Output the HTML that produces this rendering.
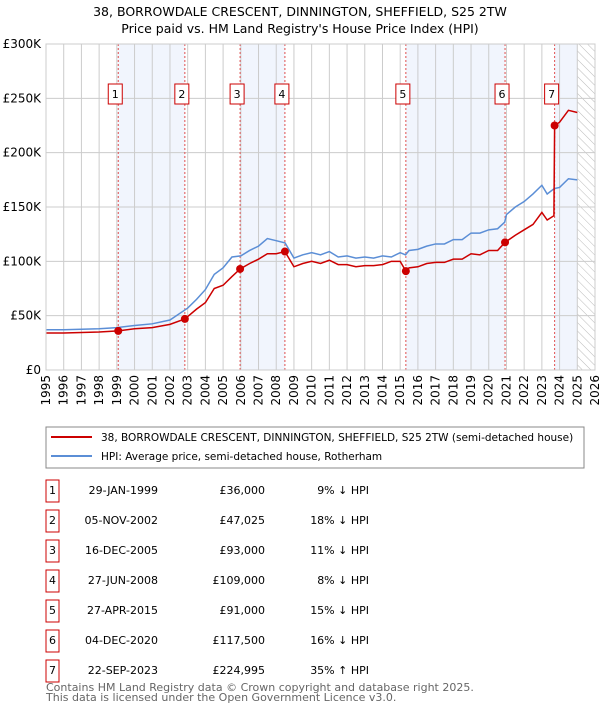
<!DOCTYPE html>
<html><head><meta charset="utf-8"><style>
body{margin:0;background:#fff;font-family:"DejaVu Sans","Liberation Sans",sans-serif;}
#wrap{position:relative;width:600px;height:710px;overflow:hidden}
</style></head><body><div id="wrap">
<svg id="svg" width="600" height="710" style="position:absolute;left:0;top:0">
<text x="300" y="16" text-anchor="middle" font-size="12.5">38, BORROWDALE CRESCENT, DINNINGTON, SHEFFIELD, S25 2TW</text>
<text x="300" y="33" text-anchor="middle" font-size="12.5">Price paid vs. HM Land Registry's House Price Index (HPI)</text>
<g id="plot"></g>
<rect x="46" y="427" width="538" height="41" fill="#fff" stroke="#888"/>
<line x1="51" y1="437" x2="92" y2="437" stroke="#cc0000" stroke-width="2"/>
<text x="101" y="441" font-size="10.5">38, BORROWDALE CRESCENT, DINNINGTON, SHEFFIELD, S25 2TW (semi-detached house)</text>
<line x1="51" y1="456" x2="92" y2="456" stroke="#5b8ed6" stroke-width="2"/>
<text x="101" y="460" font-size="10.5">HPI: Average price, semi-detached house, Rotherham</text>
<g id="table"></g>
<text x="46" y="691" font-size="11" fill="#666">Contains HM Land Registry data © Crown copyright and database right 2025.</text>
<text x="46" y="701" font-size="11" fill="#666">This data is licensed under the Open Government Licence v3.0.</text>
</svg></div>
<script>
const yTicks=[0,50,100,150,200,250,300];
const yTickLabels=["£0","£50K","£100K","£150K","£200K","£250K","£300K"];
const years=[1995,1996,1997,1998,1999,2000,2001,2002,2003,2004,2005,2006,2007,2008,2009,2010,2011,2012,2013,2014,2015,2016,2017,2018,2019,2020,2021,2022,2023,2024,2025,2026];
const hpiT=[1995,1996,1997,1998,1999,2000,2001,2002,2003,2003.5,2004,2004.5,2005,2005.5,2006,2006.5,2007,2007.5,2008,2008.5,2009,2009.5,2010,2010.5,2011,2011.5,2012,2012.5,2013,2013.5,2014,2014.5,2015,2015.3,2015.5,2016,2016.5,2017,2017.5,2018,2018.5,2019,2019.5,2020,2020.5,2020.9,2021,2021.5,2022,2022.5,2023,2023.3,2023.7,2024,2024.5,2025];
const hpiV=[37,37,37.5,38,39,41,42.5,46,57,65,74,88,94,104,105,110,114,121,119,117,103,106,108,106,109,104,105,103,104,103,105,104,108,106,110,111,114,116,116,120,120,126,126,129,130,136,143,150,155,162,170,162,167,168,176,175];
const propT=[1995,1996,1997,1998,1999.08,2000,2001,2002,2002.84,2003.5,2004,2004.5,2005,2005.5,2005.96,2006.5,2007,2007.5,2008,2008.49,2009,2009.5,2010,2010.5,2011,2011.5,2012,2012.5,2013,2013.5,2014,2014.5,2015,2015.32,2015.5,2016,2016.5,2017,2017.5,2018,2018.5,2019,2019.5,2020,2020.5,2020.92,2021.5,2022,2022.5,2023,2023.3,2023.68,2023.72,2024,2024.5,2025];
const propV=[34,34,34.5,35,36,38,39,42,47,56,62,75,78,86,93,98,102,107,107,109,95,98,100,98,101,97,97,95,96,96,97,100,100,91,94,95,98,99,99,102,102,107,106,110,110,117.5,124,129,134,145,138,142,225,228,239,237];
const saleLabels=["1","2","3","4","5","6","7"];
const saleT=[1999.08,2002.84,2005.96,2008.49,2015.32,2020.92,2023.72];
const saleV=[36,47.025,93,109,91,117.5,224.995];
const saleDates=["29-JAN-1999","05-NOV-2002","16-DEC-2005","27-JUN-2008","27-APR-2015","04-DEC-2020","22-SEP-2023"];
const salePrices=["£36,000","£47,025","£93,000","£109,000","£91,000","£117,500","£224,995"];
const saleDiffs=["9% ↓ HPI","18% ↓ HPI","11% ↓ HPI","8% ↓ HPI","15% ↓ HPI","16% ↓ HPI","35% ↑ HPI"];

const X0=46,X1=595,Y0=370,Y1=44;
const xs=t=>X0+(t-1995)/(2026-1995)*(X1-X0);
const ys=v=>Y0-v/300*(Y0-Y1);
const NS="http://www.w3.org/2000/svg";
const g=document.getElementById('plot');
function mk(tag,at,par){const e=document.createElementNS(NS,tag);for(const k in at)e.setAttribute(k,at[k]);(par||g).appendChild(e);return e;}
const defs=mk('defs',{});
const pat=mk('pattern',{id:'hatch',width:6,height:6,patternUnits:'userSpaceOnUse',patternTransform:'rotate(-45)'},defs);
mk('line',{x1:0,y1:0,x2:0,y2:6,stroke:'#bbb','stroke-width':1},pat);
const bandStarts=[0,2,4,6];
for(const i of bandStarts){const a=saleT[i],b=i+1<saleT.length?saleT[i+1]:2025;
 const r=mk('rect',{x:xs(a),y:Y1,width:xs(b)-xs(a),height:Y0-Y1,fill:'#eef3fc',opacity:0.8});
 }
const h=mk('rect',{x:xs(2025),y:Y1,width:xs(2026)-xs(2025),height:Y0-Y1,fill:'url(#hatch)'});

years.forEach(y=>{const l=mk('line',{x1:xs(y),y1:Y1,x2:xs(y),y2:Y0,stroke:'#ccc','stroke-width':1});
 
 const t=mk('text',{x:0,y:0,'font-size':12,'text-anchor':'end',transform:`translate(${xs(y)+4},${Y0+5}) rotate(-90)`});t.textContent=y;
 });
yTicks.forEach((v,i)=>{const l=mk('line',{x1:X0,y1:ys(v),x2:X1,y2:ys(v),stroke:'#ccc','stroke-width':1});
 
 const t=mk('text',{x:X0-5,y:ys(v)+4,'font-size':12,'text-anchor':'end'});t.textContent=yTickLabels[i];
 });
saleT.forEach((t,i)=>{const l=mk('line',{x1:xs(t),y1:Y1,x2:xs(t),y2:Y0,stroke:'#e05050','stroke-width':1,'stroke-dasharray':'2,2'});
 
 const r=mk('rect',{x:xs(t)-10,y:84,width:14,height:20,fill:'#fff',stroke:'#cc0000'});
 
 const tx=mk('text',{x:xs(t)-3,y:98,'font-size':11,'text-anchor':'middle'});tx.textContent=saleLabels[i];
 });
function line(T,V,c,n){const p=mk('polyline',{points:T.map((t,i)=>xs(t)+','+ys(V[i])).join(' '),fill:'none',stroke:c,'stroke-width':1.5});
 }
line(hpiT,hpiV,'#5b8ed6','hpi-line');
line(propT,propV,'#cc0000','property-line');
saleT.forEach((t,i)=>{const c=mk('circle',{cx:xs(t),cy:ys(saleV[i]),r:4,fill:'#cc0000'});
 });
mk('rect',{x:X0,y:Y1,width:X1-X0,height:Y0-Y1,fill:'none',stroke:'#ccc'});
const tb=document.getElementById('table');
saleLabels.forEach((s,i)=>{const y=494+i*30;
 const r=mk('rect',{x:46,y:y-14,width:13,height:22,fill:'#fff',stroke:'#cc0000'},tb);
 
 const a=mk('text',{x:52.5,y:y,'font-size':11,'text-anchor':'middle'},tb);a.textContent=s;
 
 const d=mk('text',{x:158,y:y,'font-size':11,'text-anchor':'end'},tb);d.textContent=saleDates[i];
 
 const p=mk('text',{x:265,y:y,'font-size':11,'text-anchor':'end'},tb);p.textContent=salePrices[i];
 
 const q=mk('text',{x:369,y:y,'font-size':11,'text-anchor':'end'},tb);q.textContent=saleDiffs[i];
 });
</script></body></html>
